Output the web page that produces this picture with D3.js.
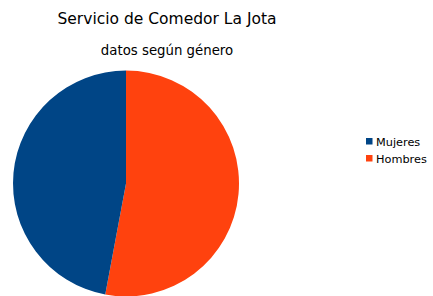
<!DOCTYPE html>
<html>
<head>
<meta charset="utf-8">
<script src="https://cdn.jsdelivr.net/npm/d3@7"></script>
<style>
  body { margin: 0; background: #fff; }
  text { font-family: "DejaVu Sans", sans-serif; fill: #000; }
</style>
</head>
<body>
<div id="chart"></div>
<script>
// DATA
const categories = ["Mujeres", "Hombres"];
const values = [8, 9];
const colors = ["#004586", "#ff420e"];

// drawing order of the slices (clockwise from 12 o'clock)
const sliceOrder = ["Hombres", "Mujeres"];

const width = 433;
const height = 296;

const svg = d3.select("#chart")
    .append("svg")
    .attr("width", width)
    .attr("height", height);

// titles
svg.append("text")
    .attr("x", 167)
    .attr("y", 24)
    .attr("text-anchor", "middle")
    .style("font-size", "15.5px")
    .text("Servicio de Comedor La Jota");

svg.append("text")
    .attr("x", 167)
    .attr("y", 55)
    .attr("text-anchor", "middle")
    .style("font-size", "13.3px")
    .text("datos según género");

// pie
const color = d3.scaleOrdinal().domain(categories).range(colors);
const rows = sliceOrder.map(function(name) {
    return {name: name, value: values[categories.indexOf(name)]};
});

const pie = d3.pie()
    .sort(null)
    .value(function(d) { return d.value; });

const arc = d3.arc()
    .innerRadius(0)
    .outerRadius(113);

svg.append("g")
    .attr("transform", "translate(126,183.5)")
    .selectAll("path")
    .data(pie(rows))
    .join("path")
    .attr("d", arc)
    .attr("fill", function(d) { return color(d.data.name); });

// legend
const legend = svg.append("g")
    .attr("transform", "translate(366,138)");

const item = legend.selectAll("g")
    .data(categories)
    .join("g")
    .attr("transform", function(d, i) { return `translate(0,${i * 17})`; });

item.append("rect")
    .attr("width", 6.5)
    .attr("height", 6.5)
    .attr("fill", function(d) { return color(d); });

item.append("text")
    .attr("x", 10)
    .attr("y", 7.5)
    .style("font-size", "11.3px")
    .text(function(d) { return d; });
</script>
</body>
</html>
